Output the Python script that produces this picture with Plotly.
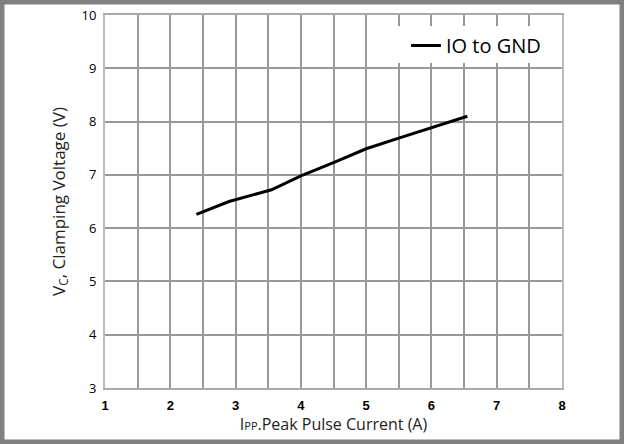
import plotly.graph_objects as go

ipp = [2.4, 2.9, 3.55, 4.0, 4.5, 5.0, 5.5, 6.0, 6.55]
vc = [6.26, 6.5, 6.72, 6.98, 7.23, 7.49, 7.69, 7.89, 8.1]
series_name = "IO to GND"
x_ticks = [1, 2, 3, 4, 5, 6, 7, 8]
y_ticks = [3, 4, 5, 6, 7, 8, 9, 10]

W, H = 624, 444
ML, MR, MT, MB = 105, 62, 15, 56
pw, ph = W - ML - MR, H - MT - MB


def px_x(v):
    return (v - ML) / pw


def px_y(v):
    return 1 - (v - MT) / ph


fig = go.Figure()
fig.add_trace(go.Scatter(x=ipp, y=vc, mode="lines", name=series_name,
                         line=dict(color="black", width=3)))

grid = "#999999"
fig.update_layout(
    width=W, height=H,
    margin=dict(l=ML, r=MR, t=MT, b=MB, autoexpand=False),
    paper_bgcolor="white", plot_bgcolor="white",
    font=dict(family="Open Sans", color="#222222"),
    showlegend=True,
    legend=dict(x=px_x(406), xanchor="left", y=px_y(26), yanchor="top",
                bgcolor="rgba(255,255,255,0)", borderwidth=0,
                font=dict(size=20, family="Open Sans", color="black"),
                itemwidth=30),
    xaxis=dict(range=[1, 8], tickvals=x_ticks, showgrid=True, gridcolor=grid, gridwidth=2,
               minor=dict(dtick=0.5, tick0=1, showgrid=True, gridcolor=grid, gridwidth=2),
               showline=True, linecolor="#aaaaaa", linewidth=2, mirror=True,
               ticks="", zeroline=False, ticklabelstandoff=4,
               tickfont=dict(family="Liberation Sans", size=13, color="black", weight="bold"),
               title=dict(text="I<span style='font-size:11px'>PP</span>.Peak Pulse Current (A)",
                          font=dict(family="Open Sans", size=16, color="#222222"), standoff=5)),
    yaxis=dict(range=[3, 10], tickvals=y_ticks, showgrid=True, gridcolor=grid, gridwidth=2,
               showline=True, linecolor="#bbbbbb", linewidth=2, mirror=True,
               ticks="", zeroline=False, ticklabelstandoff=4,
               tickfont=dict(family="Open Sans", size=13, color="black"),
               title=dict(text="V<sub>C</sub>, Clamping Voltage (V)",
                          font=dict(family="Open Sans", size=17, color="#222222"), standoff=12)),
    shapes=[
        dict(type="rect", xref="paper", yref="paper",
             x0=px_x(398), x1=px_x(560), y0=px_y(63), y1=px_y(26),
             line=dict(width=0), fillcolor="white", layer="above"),
        dict(type="rect", xref="paper", yref="paper",
             x0=px_x(0), x1=px_x(W), y0=px_y(H), y1=px_y(0),
             line=dict(color="#808080", width=9), fillcolor="rgba(0,0,0,0)", layer="above"),
    ],
)

fig.write_html("out.html", config={"displayModeBar": False},
               post_script="document.body.style.margin='0';document.body.style.overflow='hidden';")
